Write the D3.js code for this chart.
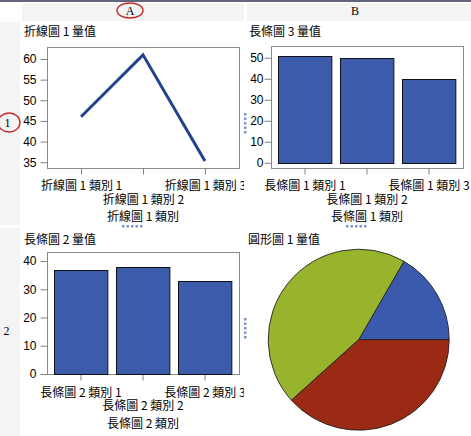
<!DOCTYPE html>
<html>
<head>
<meta charset="utf-8">
<script src="https://cdn.jsdelivr.net/npm/d3@7"></script>
<style>
  html, body { margin: 0; padding: 0; background: #fff; }
  svg { display: block; }
  text { font-family: "Liberation Sans", "Noto Sans CJK TC", sans-serif; }
</style>
</head>
<body>
<svg id="chart" width="471" height="436"></svg>
<script>
// ---- data ----
const columnLabels = ["A", "B"];
const rowLabels = ["1", "2"];
const panelTitles = ["折線圖 1 量值", "長條圖 3 量值", "長條圖 2 量值", "圓形圖 1 量值"];

const lineCats = ["折線圖 1 類別 1", "折線圖 1 類別 2", "折線圖 1 類別 3"];
const lineValues = [46, 61, 35.3];
const lineTicks = [35, 40, 45, 50, 55, 60];
const lineAxisTitle = "折線圖 1 類別";

const bar3Cats = ["長條圖 1 類別 1", "長條圖 1 類別 2", "長條圖 1 類別 3"];
const bar3Values = [51, 50, 40];
const bar3Ticks = [0, 10, 20, 30, 40, 50];
const bar3AxisTitle = "長條圖 1 類別";

const bar2Cats = ["長條圖 2 類別 1", "長條圖 2 類別 2", "長條圖 2 類別 3"];
const bar2Values = [37, 38, 33];
const bar2Ticks = [0, 10, 20, 30, 40];
const bar2AxisTitle = "長條圖 2 類別";

const pieCats = ["圓形圖 1 類別 1", "圓形圖 1 類別 2", "圓形圖 1 類別 3"];
const pieValues = [20, 54, 46];
const pieColors = ["#3b5aad", "#98b42d", "#9b2a14"];

// ---- drawing ----
const svg = d3.select("#chart");
const cjk = "\"Noto Sans CJK TC\", sans-serif";
const serif = "\"Liberation Serif\", \"DejaVu Serif\", serif";

// background chrome
svg.append("rect").attr("x", 0).attr("y", 0).attr("width", 471).attr("height", 2).attr("fill", "#62647c");
svg.append("rect").attr("x", 22).attr("y", 3).attr("width", 222).attr("height", 18).attr("fill", "#f4f4f4");
svg.append("rect").attr("x", 247).attr("y", 3).attr("width", 224).attr("height", 18).attr("fill", "#f4f4f4");
svg.append("rect").attr("x", 0).attr("y", 22).attr("width", 20).attr("height", 203).attr("fill", "#f4f4f4");
svg.append("rect").attr("x", 0).attr("y", 228).attr("width", 20).attr("height", 208).attr("fill", "#f4f4f4");

const colX = [130, 355];
columnLabels.forEach((c, i) => {
  svg.append("text").attr("x", colX[i]).attr("y", 15).attr("text-anchor", "middle")
    .style("font-family", serif).style("font-size", "12px").text(c);
});
const rowY = [127, 335];
const rowX = [7.5, 6.5];
rowLabels.forEach((r, i) => {
  svg.append("text").attr("x", rowX[i]).attr("y", rowY[i]).attr("text-anchor", "middle")
    .style("font-family", serif).style("font-size", "12px").text(r);
});
// red selection ellipses
svg.append("ellipse").attr("cx", 130).attr("cy", 10.5).attr("rx", 13).attr("ry", 7.5)
  .attr("fill", "none").attr("stroke", "#c8282a").attr("stroke-width", 1.4);
svg.append("ellipse").attr("cx", 9).attr("cy", 122.5).attr("rx", 11).attr("ry", 9.5)
  .attr("fill", "none").attr("stroke", "#c8282a").attr("stroke-width", 1.4);

// dotted handles
function hDots(x0, y0) {
  for (let i = 0; i < 5; i++) svg.append("rect").attr("x", x0 + i * 4.5).attr("y", y0).attr("width", 2.5).attr("height", 2.5).attr("fill", "#7a96c8");
}
function vDots(x0, y0) {
  for (let i = 0; i < 5; i++) svg.append("rect").attr("x", x0).attr("y", y0 + i * 4.5).attr("width", 2.5).attr("height", 2.5).attr("fill", "#7a96c8");
}
hDots(122, 225); hDots(346, 225);
vDots(244, 113); vDots(244, 318);

// clip paths per panel
const defs = svg.append("defs");
const clips = [[22, 22, 222, 206], [247, 22, 224, 206], [22, 228, 222, 208], [247, 228, 224, 208]];
clips.forEach((c, i) => {
  defs.append("clipPath").attr("id", "clip" + i).append("rect")
    .attr("x", c[0]).attr("y", c[1]).attr("width", c[2]).attr("height", c[3]);
});
const panels = clips.map((c, i) => svg.append("g").attr("clip-path", `url(#clip${i})`));

// panel titles
const titlePos = [[24, 36], [249, 36], [24, 244], [248, 244]];
panelTitles.forEach((t, i) => {
  panels[i].append("text").attr("x", titlePos[i][0]).attr("y", titlePos[i][1])
    .style("font-family", cjk).style("font-size", "12px").text(t);
});

function cartesian(g, box, x, y, ticks, yPad, axisTitle, rows) {
  g.append("rect").attr("x", box.x0 + 0.5).attr("y", box.y0 + 0.5)
    .attr("width", box.x1 - box.x0).attr("height", box.y1 - box.y0)
    .attr("fill", "#fff").attr("stroke", "#8a8a8a");
  const ya = g.append("g").attr("transform", `translate(${box.x0 + 0.5},0)`)
    .call(d3.axisLeft(y).tickValues(ticks).tickSize(7).tickPadding(yPad).tickFormat(d3.format("d")));
  ya.select(".domain").remove();
  ya.selectAll(".tick line").attr("stroke", "#808080");
  ya.selectAll(".tick text").style("font-family", "\"Liberation Sans\", sans-serif").style("font-size", "12px").attr("fill", "#000");
  const xa = g.append("g").attr("transform", `translate(0,${box.y1 + 0.5})`)
    .call(d3.axisBottom(x).tickSize(6));
  xa.select(".domain").remove();
  xa.selectAll(".tick line").attr("stroke", "#808080");
  xa.selectAll(".tick text")
    .style("font-family", cjk).style("font-size", "12px").attr("fill", "#000")
    .attr("dy", 0).attr("y", (d, i) => i % 2 ? rows[1] : rows[0]);
  g.append("text").attr("x", (box.x0 + box.x1) / 2).attr("y", box.y1 + rows[2])
    .attr("text-anchor", "middle").style("font-family", cjk).style("font-size", "12px").text(axisTitle);
}

// Panel 1: line chart
{
  const box = { x0: 47, x1: 239, y0: 47, y1: 168 };
  const x = d3.scalePoint().domain(lineCats).range([box.x0, box.x1]).padding(0.55);
  const y = d3.scaleLinear().domain([33.6, 62.9]).range([box.y1, box.y0]);
  cartesian(panels[0], box, x, y, lineTicks, 4, lineAxisTitle, [21, 35, 53]);
  const line = d3.line().x((d, i) => x(lineCats[i])).y(d => y(d));
  panels[0].append("path").datum(lineValues).attr("d", line)
    .attr("fill", "none").attr("stroke", "#22418f").attr("stroke-width", 3);
}

// Panel 2: bar chart 3
function bars(g, box, cats, vals, domain, ticks, yPad, title, rows) {
  const x = d3.scaleBand().domain(cats).range([box.x0, box.x1]).paddingInner(0.14).paddingOuter(0.118);
  const y = d3.scaleLinear().domain(domain).range([box.y1, box.y0]);
  cartesian(g, box, x, y, ticks, yPad, title, rows);
  g.append("g").selectAll("rect").data(vals).join("rect")
    .attr("x", (d, i) => Math.round(x(cats[i])) + 0.5)
    .attr("y", d => Math.round(y(d)) + 0.5)
    .attr("width", x.bandwidth())
    .attr("height", d => Math.round(y(0)) - Math.round(y(d)))
    .attr("fill", "#3c5bab").attr("stroke", "#111").attr("stroke-width", 1);
}
bars(panels[1], { x0: 271, x1: 463, y0: 46, y1: 168 }, bar3Cats, bar3Values, [-2.5, 55.6], bar3Ticks, 1, bar3AxisTitle, [21, 35, 53]);
bars(panels[2], { x0: 47, x1: 239, y0: 252, y1: 374 }, bar2Cats, bar2Values, [0, 43.2], bar2Ticks, 4, bar2AxisTitle, [22, 35, 54]);

// Panel 4: pie
{
  const pie = d3.pie().sort(null).startAngle(Math.PI / 2).endAngle(Math.PI / 2 - 2 * Math.PI);
  const arc = d3.arc().innerRadius(0).outerRadius(90.5);
  panels[3].append("g").attr("transform", "translate(358.7,339.7)")
    .selectAll("path").data(pie(pieValues)).join("path")
    .attr("d", arc).attr("fill", (d, i) => pieColors[i])
    .attr("stroke", "#222").attr("stroke-width", 0.9);
}
</script>
</body>
</html>
